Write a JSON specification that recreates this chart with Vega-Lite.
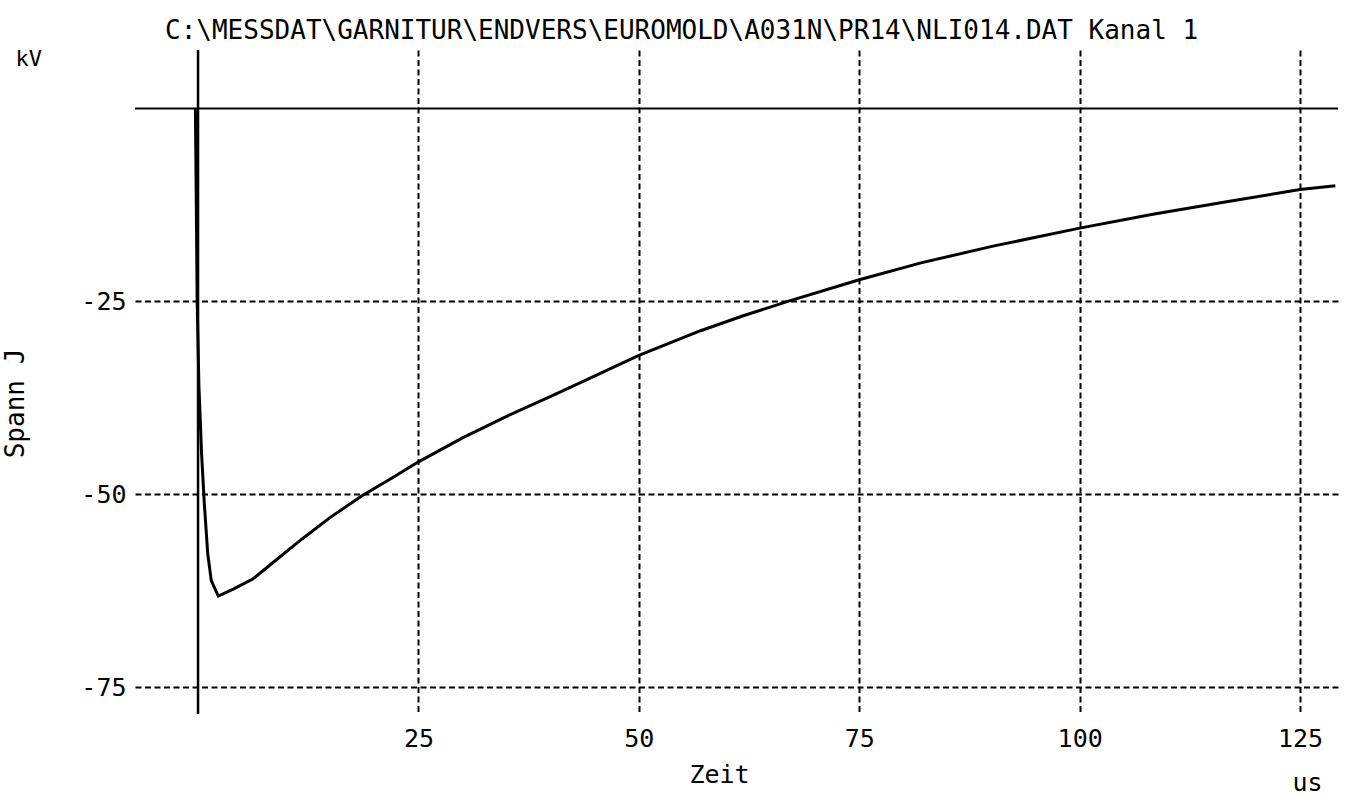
{
  "$schema": "https://vega.github.io/schema/vega-lite/v6.json",
  "width": 1203,
  "height": 664,
  "autosize": {"type": "none"},
  "padding": {"left": 135, "top": 50, "right": 16, "bottom": 84},
  "background": "white",
  "config": {"view": {"stroke": null}},
  "title": {
    "text": "C:\\MESSDAT\\GARNITUR\\ENDVERS\\EUROMOLD\\A031N\\PR14\\NLI014.DAT Kanal 1",
    "anchor": "start",
    "frame": "group",
    "dx": 30,
    "offset": -18,
    "baseline": "alphabetic",
    "font": "DejaVu Sans Mono",
    "fontSize": 26,
    "fontWeight": "normal",
    "color": "black"
  },
  "datasets": {
    "curve": [
      {"t": -0.3, "v": 0},
      {"t": -0.2, "v": -12},
      {"t": -0.1, "v": -25},
      {"t": 0.1, "v": -36},
      {"t": 0.4, "v": -44.7},
      {"t": 0.7, "v": -51},
      {"t": 1.1, "v": -57.7},
      {"t": 1.5, "v": -61.2},
      {"t": 2.3, "v": -63.2},
      {"t": 4, "v": -62.3},
      {"t": 6.2, "v": -61.0},
      {"t": 9, "v": -58.4},
      {"t": 11.8, "v": -55.8},
      {"t": 15, "v": -53.0},
      {"t": 18.6, "v": -50.2},
      {"t": 22, "v": -47.9},
      {"t": 25, "v": -45.8},
      {"t": 30, "v": -42.7},
      {"t": 35, "v": -39.9},
      {"t": 40, "v": -37.3},
      {"t": 43.8, "v": -35.3},
      {"t": 50, "v": -32.0},
      {"t": 57, "v": -28.8},
      {"t": 62, "v": -26.8},
      {"t": 66.9, "v": -25.0},
      {"t": 75, "v": -22.2},
      {"t": 82, "v": -20.0},
      {"t": 90.3, "v": -17.8},
      {"t": 100, "v": -15.5},
      {"t": 108.3, "v": -13.7},
      {"t": 117, "v": -12.0},
      {"t": 125, "v": -10.5},
      {"t": 129, "v": -10.0}
    ]
  },
  "resolve": {"axis": {"x": "independent", "y": "independent"}},
  "layer": [
    {
      "data": {"name": "curve"},
      "mark": {"type": "line", "color": "black", "strokeWidth": 3},
      "encoding": {
        "x": {
          "field": "t",
          "type": "quantitative",
          "scale": {"domain": [-7.15, 129.3], "nice": false, "zero": false},
          "axis": {
            "orient": "bottom",
            "values": [25, 50, 75, 100, 125],
            "grid": true,
            "gridColor": "black",
            "gridDash": [6, 3.5],
            "gridWidth": 2,
            "gridOpacity": 1,
            "domain": false,
            "ticks": false,
            "labelFont": "DejaVu Sans Mono",
            "labelFontSize": 25,
            "labelColor": "black",
            "labelPadding": 12,
            "labelFlush": false,
            "labelOverlap": false,
            "title": "Zeit",
            "titleFont": "DejaVu Sans Mono",
            "titleFontSize": 25,
            "titleFontWeight": "normal",
            "titleColor": "black",
            "titleX": 584,
            "titleY": 68,
            "titleAlign": "center",
            "titleBaseline": "alphabetic"
          }
        },
        "y": {
          "field": "v",
          "type": "quantitative",
          "scale": {"domain": [-78.5, 7.6], "nice": false, "zero": false},
          "axis": {
            "orient": "left",
            "values": [-25, -50, -75],
            "labelExpr": "replace(datum.label, '\u2212', '-')",
            "grid": true,
            "gridColor": "black",
            "gridDash": [6, 3.5],
            "gridWidth": 2,
            "gridOpacity": 1,
            "domain": false,
            "ticks": false,
            "labelFont": "DejaVu Sans Mono",
            "labelFontSize": 25,
            "labelColor": "black",
            "labelPadding": 9,
            "labelFlush": false,
            "labelOverlap": false,
            "title": "Spann  J",
            "titleFont": "DejaVu Sans Mono",
            "titleFontSize": 26,
            "titleFontWeight": "normal",
            "titleColor": "black",
            "titleAngle": 270,
            "titleX": -112,
            "titleY": 353,
            "titleAlign": "center",
            "titleBaseline": "alphabetic"
          }
        }
      }
    },
    {
      "data": {"values": [{}]},
      "mark": {"type": "rule", "color": "black", "strokeWidth": 2},
      "encoding": {
        "y": {
          "datum": 0,
          "type": "quantitative",
          "axis": {
            "orient": "left",
            "labels": false,
            "ticks": false,
            "domain": false,
            "grid": false,
            "title": "kV",
            "titleFont": "DejaVu Sans Mono",
            "titleFontSize": 22,
            "titleFontWeight": "normal",
            "titleColor": "black",
            "titleAngle": 0,
            "titleX": -120,
            "titleY": 15,
            "titleAlign": "left",
            "titleBaseline": "alphabetic"
          }
        }
      }
    },
    {
      "data": {"values": [{}]},
      "mark": {"type": "rule", "color": "black", "strokeWidth": 2.5},
      "encoding": {
        "x": {
          "datum": 0,
          "type": "quantitative",
          "axis": {
            "orient": "bottom",
            "labels": false,
            "ticks": false,
            "domain": false,
            "grid": false,
            "title": "us",
            "titleFont": "DejaVu Sans Mono",
            "titleFontSize": 25,
            "titleFontWeight": "normal",
            "titleColor": "black",
            "titleX": 1172,
            "titleY": 76,
            "titleAlign": "center",
            "titleBaseline": "alphabetic"
          }
        }
      }
    }
  ]
}
